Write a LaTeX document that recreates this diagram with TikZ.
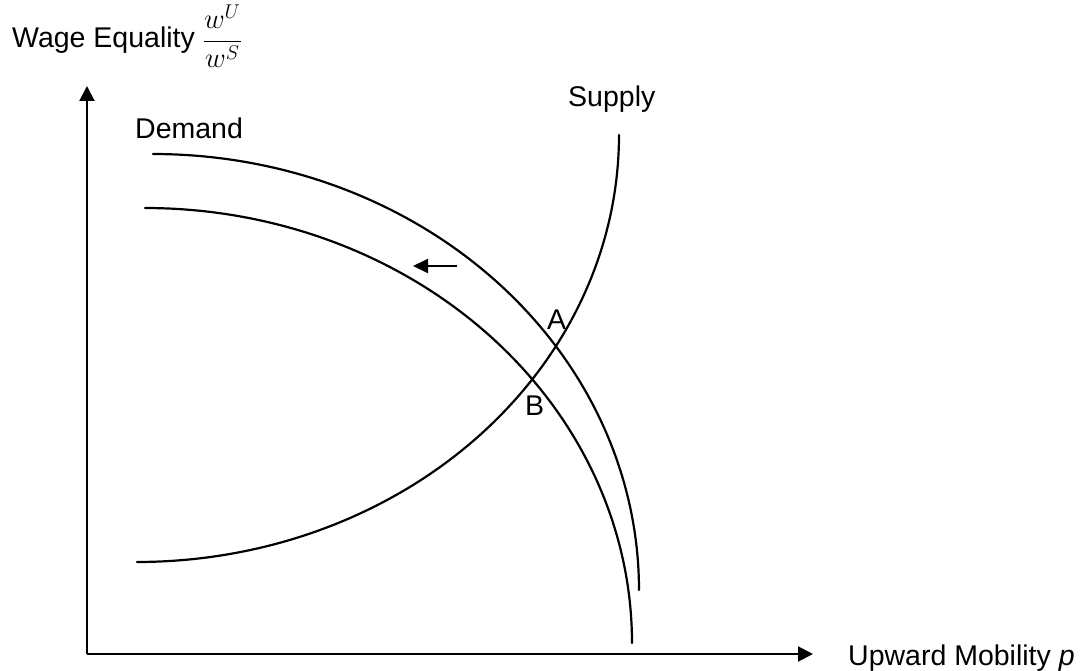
\RequirePackage{fix-cm}
\documentclass[tikz,border=0pt]{standalone}
\usepackage{fontspec}
\setmainfont{Liberation Sans}
\usetikzlibrary{arrows.meta}
\begin{document}
\begin{tikzpicture}[x=1pt,y=-1pt,
  curve/.style={line width=2.2pt, line cap=round, line join=round},
  axis/.style={line width=2pt, -{Triangle[length=15pt,width=15pt]}},
  shiftarrow/.style={line width=2pt, -{Triangle[length=15pt,width=14pt]}},
  lbl/.style={font=\fontsize{28.5}{34}\selectfont, inner sep=0pt, anchor=base west}]
\useasboundingbox (0,0) rectangle (1088,671);
% axes
\coordinate (origin) at (87,654);
\coordinate (ytop) at (87,86);
\coordinate (xend) at (813,654);
\draw[axis] (origin) -- (ytop);
\draw[axis] (origin) -- (xend);
% labels
\node[lbl] (ylabel) at (12,48) {Wage Equality $\displaystyle\frac{w^U}{w^S}$};
\node[lbl] (xlabel) at (848,665) {Upward Mobility \textit{p}};
\node[lbl] (demand) at (135,139) {Demand};
\node[lbl] (supply) at (568,107) {Supply};
\node[lbl] (A) at (547,330) {A};
\node[lbl] (B) at (525,415) {B};
% outer demand
\draw[curve] plot[domain=90:0, samples=90, smooth] ({153+486*cos(\x)}, {590-436*sin(\x)});
% inner demand
\draw[curve] plot[domain=90:0, samples=90, smooth] ({145+487*cos(\x)}, {643-435*sin(\x)});
% supply
\draw[curve] plot[domain=0:90, samples=90, smooth] ({137+482*sin(\x)}, {135+427*cos(\x)});
% shift arrow
\coordinate (arrS) at (457,266);
\coordinate (arrE) at (413,266);
\draw[shiftarrow] (arrS) -- (arrE);
\end{tikzpicture}
\end{document}
